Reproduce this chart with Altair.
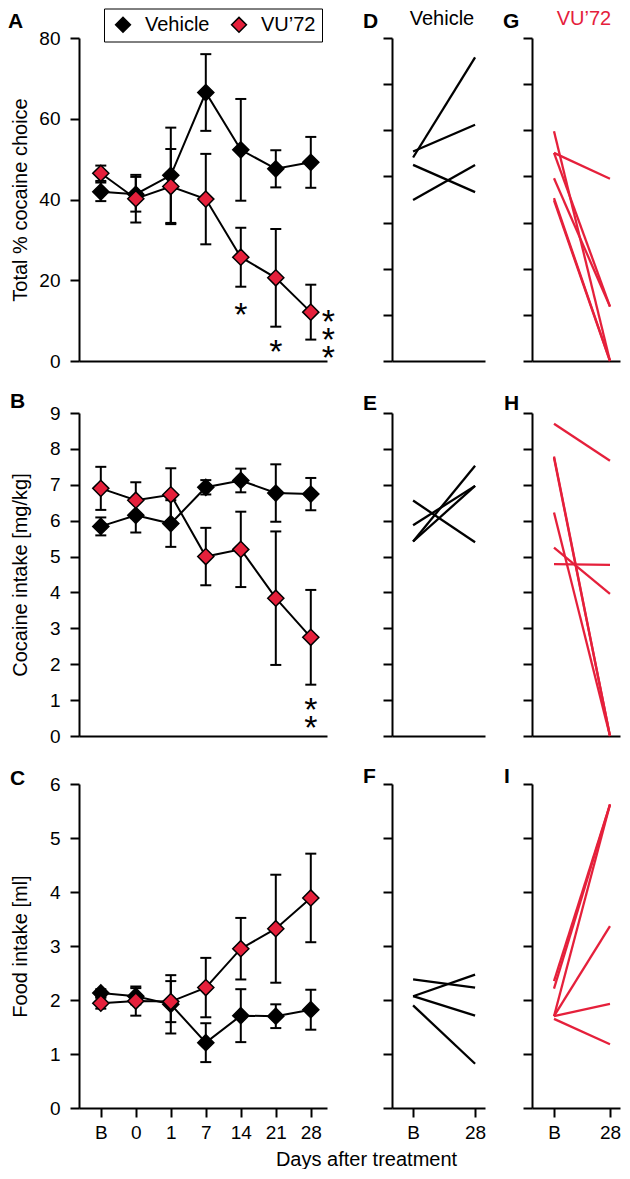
import json
import altair as alt
import pandas as pd

FONT = "Liberation Sans"
RED = "#e5203b"

# ---------------- data ----------------
days = ["B", "0", "1", "7", "14", "21", "28"]
pair_days = ["B", "28"]
groups = ["Vehicle", "VU\u201972"]

choice_vehicle = [41.9, 41.3, 46.0, 66.5, 52.3, 47.6, 49.2]
choice_vehicle_sem = [2.3, 4.3, 11.8, 9.5, 12.6, 4.6, 6.3]
choice_vu72 = [46.5, 40.2, 43.2, 40.1, 25.7, 20.6, 12.1]
choice_vu72_sem = [1.9, 5.9, 9.3, 11.2, 7.3, 12.1, 6.8]

intake_vehicle = [5.84, 6.15, 5.92, 6.93, 7.12, 6.77, 6.74]
intake_vehicle_sem = [0.25, 0.48, 0.65, 0.20, 0.33, 0.80, 0.45]
intake_vu72 = [6.90, 6.57, 6.72, 5.00, 5.20, 3.84, 2.75]
intake_vu72_sem = [0.60, 0.50, 0.74, 0.80, 1.05, 1.86, 1.32]

food_vehicle = [2.13, 2.07, 1.92, 1.21, 1.71, 1.70, 1.82]
food_vehicle_sem = [0.07, 0.15, 0.54, 0.36, 0.49, 0.22, 0.37]
food_vu72 = [1.94, 1.98, 1.97, 2.23, 2.95, 3.32, 3.89]
food_vu72_sem = [0.10, 0.27, 0.38, 0.55, 0.57, 1.00, 0.82]

# significance markers (day index, value of the first mark, label)
choice_stars_x = [4, 5, 6.5]
choice_stars_y = [13.1, 4.0, 11.4]
choice_stars_t = ["*", "*", "*\n*\n*"]
intake_stars_x = [6]
intake_stars_y = [0.93]
intake_stars_t = ["*\n*"]

# individual animals: baseline -> day 28
choice_vehicle_b = [44.1, 45.4, 42.5, 34.9]
choice_vehicle_28 = [65.8, 51.2, 36.6, 42.5]
choice_vu72_b = [49.8, 45.1, 45.1, 39.6, 35.3, 34.8]
choice_vu72_28 = [0.0, 39.5, 11.8, 11.8, 0.0, 0.0]

intake_vehicle_b = [6.56, 5.87, 5.42, 5.42]
intake_vehicle_28 = [5.40, 6.97, 7.53, 6.97]
intake_vu72_b = [8.70, 7.79, 7.75, 6.23, 5.25, 4.79]
intake_vu72_28 = [7.67, 0.0, 0.0, 0.0, 3.96, 4.77]

food_vehicle_b = [2.38, 2.07, 2.07, 1.90]
food_vehicle_28 = [2.23, 2.47, 1.71, 0.82]
food_vu72_b = [2.35, 2.21, 1.70, 1.70, 1.70, 1.65]
food_vu72_28 = [5.62, 5.62, 5.62, 3.37, 1.93, 1.18]

# ---------------- helpers ----------------
MAIN_W = 262
x_main = alt.Scale(domain=[-0.623, 6.463], range=[0, 248], nice=False, zero=False)
# vehicle column (view 89 wide, axis 93 long) and VU'72 column (88 wide)
VEH_W, x_veh = 89, alt.Scale(domain=[-0.34, 1.16], range=[0, 93], nice=False, zero=False)
VU_W, x_vu = 88, alt.Scale(domain=[-0.393, 1.179], nice=False, zero=False)
day_expr = json.dumps(days) + "[datum.value]"
pair_expr = json.dumps(pair_days) + "[datum.value]"

legend = alt.Legend(
    title=None, orient="none", legendX=25, legendY=-25.5, direction="horizontal",
    strokeColor="black", fillColor="white", padding=6, cornerRadius=0,
    labelFont=FONT, labelFontSize=20, labelColor="black", labelOffset=12,
    symbolType="diamond", symbolSize=220, symbolStrokeColor="black",
    symbolStrokeWidth=1.5, symbolOpacity=1, symbolOffset=3, columnPadding=16,
)


def text_layer(txt, x, y, size=21, weight="bold", color="black", align="left"):
    return alt.Chart(pd.DataFrame({"t": [txt]})).mark_text(
        font=FONT, fontSize=size, fontWeight=weight, align=align,
        baseline="alphabetic", color=color,
    ).encode(text="t:N", x=alt.value(x), y=alt.value(y))


def main_panel(veh, veh_sem, vu, vu_sem, ymax, ystep, ytitle, h, yrange, letter, lpos,
               star_x, star_y, star_t, bottom):
    rows = []
    for g, m, s in ((groups[0], veh, veh_sem), (groups[1], vu, vu_sem)):
        for i in range(len(days)):
            rows.append({"group": g, "idx": i, "mean": m[i],
                         "lo": m[i] - s[i], "hi": m[i] + s[i]})
    df = pd.DataFrame(rows)
    if bottom:
        xaxis = alt.Axis(values=list(range(len(days))), labelExpr=day_expr,
                         title="Days after treatment", titleX=287, titleY=57,
                         titleAngle=0, titleBaseline="alphabetic", titleAlign="center",
                         labelPadding=6, labelFlush=False, labelOverlap=False)
    else:
        xaxis = alt.Axis(ticks=False, labels=False, title=None)
    X = alt.X("idx:Q", scale=x_main, axis=xaxis)
    yscale = alt.Scale(domain=[0, ymax], range=yrange, nice=False, zero=True)
    yaxis = alt.Axis(values=list(range(0, ymax + 1, ystep)), title=ytitle,
                     titleX=-53, titleY=(yrange[0] + yrange[1]) / 2, titleAngle=-90,
                     titleBaseline="alphabetic", titleAlign="center",
                     labelPadding=10, labelOverlap=False)

    def Y(f):
        return alt.Y(f + ":Q", scale=yscale, axis=yaxis)

    base = alt.Chart(df)
    lines = base.mark_line(color="black", strokeWidth=2).encode(
        x=X, y=Y("mean"), detail="group:N")
    bars = base.mark_rule(color="black", strokeWidth=2).encode(
        x=X, y=Y("lo"), y2="hi:Q")
    cap_hi = base.mark_tick(orient="horizontal", size=11, thickness=2,
                            color="black", opacity=1).encode(x=X, y=Y("hi"))
    cap_lo = base.mark_tick(orient="horizontal", size=11, thickness=2,
                            color="black", opacity=1).encode(x=X, y=Y("lo"))
    pts = base.mark_point(shape="diamond", filled=True, size=260, stroke="black",
                          strokeWidth=1.5, opacity=1).encode(
        x=X, y=Y("mean"),
        fill=alt.Fill("group:N", scale=alt.Scale(domain=groups, range=["black", RED]),
                      legend=legend))
    layers = [lines, bars, cap_hi, cap_lo, pts]
    if star_x:
        stars = alt.Chart(pd.DataFrame({"idx": star_x, "mean": star_y, "t": star_t})).mark_text(
            font=FONT, fontSize=34, dy=18, baseline="alphabetic", lineBreak="\n",
            lineHeight=18, align="center", color="black").encode(
            x=X, y=Y("mean"), text="t:N")
        layers.append(stars)
    layers.append(text_layer(letter, lpos[0], lpos[1]))
    return alt.layer(*layers).properties(width=MAIN_W, height=h)


def pair_panel(starts, ends, color, xscale, w, ymax, ystep, h, yrange, letter, lpos,
               header, bottom):
    rows = []
    for k, (a, b) in enumerate(zip(starts, ends)):
        rows.append({"rat": k, "idx": 0, "v": a})
        rows.append({"rat": k, "idx": 1, "v": b})
    df = pd.DataFrame(rows)
    if bottom:
        xaxis = alt.Axis(values=[0, 1], labelExpr=pair_expr, title=None,
                         labelPadding=6, labelFlush=False, labelOverlap=False)
    else:
        xaxis = alt.Axis(ticks=False, labels=False, title=None)
    yaxis = alt.Axis(values=list(range(0, ymax + 1, ystep)), labels=False, title=None)
    line = alt.Chart(df).mark_line(color=color, strokeWidth=2.3).encode(
        x=alt.X("idx:Q", scale=xscale, axis=xaxis),
        y=alt.Y("v:Q", scale=alt.Scale(domain=[0, ymax], range=yrange, nice=False),
                axis=yaxis),
        detail="rat:N")
    layers = [line, text_layer(letter, lpos[0], lpos[1])]
    if header:
        layers.append(text_layer(header[0], header[2], -9, size=20, weight="normal",
                                 color=header[1], align="center"))
    return alt.layer(*layers).properties(width=w, height=h)


# ---------------- panels ----------------
HA, RA = 327, [327, 4]      # rows A/B: view height, y range
HC, RC = 324, [324, 0]      # row C

A = main_panel(choice_vehicle, choice_vehicle_sem, choice_vu72, choice_vu72_sem,
               80, 20, "Total % cocaine choice", HA, RA, "A", (-71, -6),
               choice_stars_x, choice_stars_y, choice_stars_t, False)
B = main_panel(intake_vehicle, intake_vehicle_sem, intake_vu72, intake_vu72_sem,
               9, 1, "Cocaine intake [mg/kg]", HA, RA, "B", (-69, -1),
               intake_stars_x, intake_stars_y, intake_stars_t, False)
C = main_panel(food_vehicle, food_vehicle_sem, food_vu72, food_vu72_sem,
               6, 1, "Food intake [ml]", HC, RC, "C", (-69, 1), [], [], [], True)

D = pair_panel(choice_vehicle_b, choice_vehicle_28, "black", x_veh, VEH_W, 70, 10, HA, RA,
               "D", (-29, -6), ("Vehicle", "black", 50), False)
G = pair_panel(choice_vu72_b, choice_vu72_28, RED, x_vu, VU_W, 70, 10, HA, RA,
               "G", (-29, -6), (groups[1], RED, 52), False)
E = pair_panel(intake_vehicle_b, intake_vehicle_28, "black", x_veh, VEH_W, 9, 1, HA, RA,
               "E", (-29, 1), None, False)
H = pair_panel(intake_vu72_b, intake_vu72_28, RED, x_vu, VU_W, 9, 1, HA, RA,
               "H", (-28, 1), None, False)
F = pair_panel(food_vehicle_b, food_vehicle_28, "black", x_veh, VEH_W, 6, 1, HC, RC,
               "F", (-29, -1), None, True)
I = pair_panel(food_vu72_b, food_vu72_28, RED, x_vu, VU_W, 6, 1, HC, RC,
               "I", (-28, -1), None, True)

chart = alt.concat(
    A, D, G, B, E, H, C, F, I,
    columns=3, spacing={"row": 48, "column": 51}, bounds="flush",
).properties(
    padding={"left": 0, "right": 0, "top": 0, "bottom": 0},
).configure_axis(
    labelFont=FONT, labelFontSize=19, labelColor="black",
    titleFont=FONT, titleFontSize=20, titleFontWeight="normal", titleColor="black",
    domainColor="black", domainWidth=2, tickColor="black", tickWidth=2, tickSize=9,
    grid=False,
).configure_view(stroke=None)

chart.save("out.html", embed_options={"renderer": "svg", "actions": False})
